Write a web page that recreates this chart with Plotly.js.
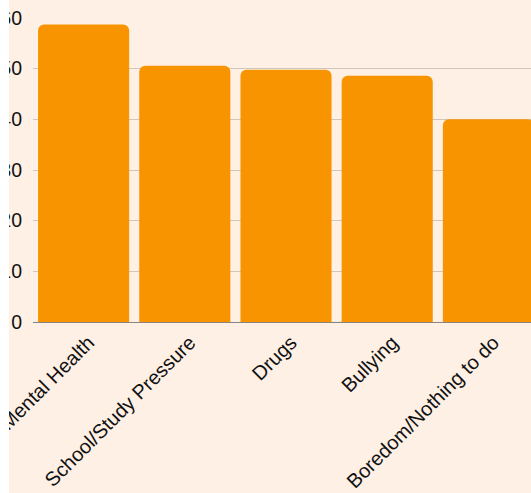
<!DOCTYPE html>
<html>
<head>
<meta charset="utf-8">
<script src="https://cdn.plot.ly/plotly-3.0.1.min.js"></script>
<style>
  html, body { margin: 0; padding: 0; background: #ffffff; overflow: hidden; width: 531px; height: 493px; }
  #chart { position: absolute; left: 9px; top: 0px; width: 540px; height: 493px; overflow: hidden; }
</style>
</head>
<body>
<div id="chart"></div>
<script>
const categories = ["Mental Health", "School/Study Pressure", "Drugs", "Bullying", "Boredom/Nothing to do"];
const values = [58.7, 50.6, 49.8, 48.6, 40.0];
const yTicks = [0, 10, 20, 30, 40, 50, 60];

const trace = {
  type: "bar",
  x: categories,
  y: values,
  marker: { color: "#F79400" },
  hoverinfo: "x+y"
};

const layout = {
  width: 540,
  height: 493,
  paper_bgcolor: "#FEF0E4",
  plot_bgcolor: "#FEF0E4",
  margin: { l: 24, r: 10, t: 18, b: 171, pad: 0 },
  bargap: 0.1,
  barcornerradius: 6,
  font: { family: "Liberation Sans, Arial, sans-serif", size: 19, color: "#111111" },
  showlegend: false,
  xaxis: {
    type: "category",
    tickangle: -45,
    showgrid: false,
    showline: true,
    linecolor: "#8a8580",
    linewidth: 1,
    ticks: "",
    ticklabelshift: 5,
    tickfont: { size: 20 }
  },
  yaxis: {
    range: [0, 60],
    tickvals: yTicks,
    showgrid: true,
    gridcolor: "#CFC7BE",
    gridwidth: 1,
    zeroline: false,
    showline: false,
    ticks: "",
    ticklabelstandoff: 10,
    tickfont: { size: 19.5 }
  }
};

Plotly.newPlot("chart", [trace], layout, { displayModeBar: false, staticPlot: true });
</script>
</body>
</html>
